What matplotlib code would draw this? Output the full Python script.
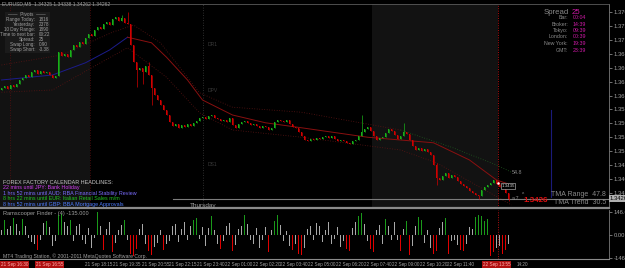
import matplotlib
matplotlib.use('Agg')
import matplotlib.pyplot as plt
import numpy as np

plt.rcParams['font.family'] = ['Liberation Sans Narrow', 'Liberation Sans', 'DejaVu Sans']

# ---------------- data ----------------
first_open = 1.3622
closes = [
    1.3626, 1.3629, 1.3624, 1.3631, 1.3627, 1.3633, 1.3640, 1.3644, 1.3649, 1.3645,
    1.3654, 1.3658, 1.3651, 1.3656, 1.3653, 1.3654, 1.3649, 1.3644, 1.3647, 1.3690,
    1.3683, 1.3687, 1.3681, 1.3694, 1.3703, 1.3699, 1.3708, 1.3705, 1.3716, 1.3723,
    1.3719, 1.3730, 1.3735, 1.3732, 1.3741, 1.3744, 1.3739, 1.3750, 1.3753, 1.3746,
    1.3752, 1.3743, 1.3741, 1.3703, 1.3672, 1.3658, 1.3662, 1.3654, 1.3665, 1.3649,
    1.3626, 1.3613, 1.3604, 1.3595, 1.3586, 1.3577, 1.3564, 1.3557, 1.3561, 1.3554,
    1.3559, 1.3555, 1.3561, 1.3557, 1.3563, 1.3566, 1.3572, 1.3573, 1.3570, 1.3575,
    1.3577, 1.3572, 1.3570, 1.3566, 1.3568, 1.3564, 1.3572, 1.3559, 1.3554, 1.3561,
    1.3564, 1.3566, 1.3563, 1.3559, 1.3561, 1.3557, 1.3554, 1.3557, 1.3555, 1.3550,
    1.3554, 1.3564, 1.3568, 1.3566, 1.3564, 1.3568, 1.3561, 1.3555, 1.3554, 1.3546,
    1.3539, 1.3532, 1.3530, 1.3534, 1.3532, 1.3536, 1.3534, 1.3537, 1.3539, 1.3536,
    1.3539, 1.3534, 1.3530, 1.3532, 1.3530, 1.3527, 1.3525, 1.3530, 1.3532, 1.3539,
    1.3546, 1.3552, 1.3555, 1.3548, 1.3539, 1.3532, 1.3536, 1.3537, 1.3545, 1.3552,
    1.3548, 1.3541, 1.3534, 1.3539, 1.3546, 1.3543, 1.3532, 1.3521, 1.3514, 1.3518,
    1.3512, 1.3516, 1.3510, 1.3505, 1.3487, 1.3464, 1.3460, 1.3467, 1.3473, 1.3464,
    1.3469, 1.3465, 1.3458, 1.3453, 1.3449, 1.3446, 1.3440, 1.3437, 1.3433, 1.3431,
    1.3442, 1.3447, 1.3451, 1.3455, 1.3460, 1.3453, 1.3447, 1.3444, 1.3437, 1.3426,
]
# only the wicks that stand out in the picture
wick_highs = {40: 1.3757, 42: 1.3762, 49: 1.3672, 120: 1.3577, 134: 1.3563, 145: 1.3490}
wick_lows = {45: 1.3628, 47: 1.3633, 50: 1.3595, 145: 1.3451, 159: 1.3426, 169: 1.3422}

# TMA centre line (blue, then red), bands
tma_blue_i = [0, 17, 28, 36, 42]
tma_blue_p = [1.3640, 1.3649, 1.3671, 1.3694, 1.3717]
tma_red_i = [42, 50, 55, 62, 67, 77, 88, 100, 122, 144, 156, 165, 170]
tma_red_p = [1.3717, 1.3707, 1.3681, 1.3640, 1.3604, 1.3577, 1.3563, 1.3554,
             1.3537, 1.3527, 1.3496, 1.3460, 1.3451]
band_up_i = [0, 20, 37, 44, 53, 66, 77, 100, 133]
band_up_p = [1.3667, 1.3685, 1.3726, 1.3739, 1.3707, 1.3617, 1.3591, 1.3582, 1.3550]
band_up2_i = [133, 150, 165, 170]
band_up2_p = [1.3550, 1.3519, 1.3487, 1.3474]
band_lo_i = [0, 17, 33, 42, 55, 66, 77, 100, 133, 145, 170]
band_lo_p = [1.3618, 1.3622, 1.3671, 1.3698, 1.3645, 1.3581, 1.3550, 1.3537,
             1.3514, 1.3491, 1.3415]

# oscillator histogram
osc = [
    30, 95, 40, 60, 110, 70, 25, 100, 55, -20, -45, -60, -95, -30, 75, 90, 50, -70, -40, 125,
    135, 80, 60, 95, -40, 55, 70, -30, -60, 45, -85, -20, 146, 60, -95, 40, 85, -110, -50, 30,
    65, 95, -30, -120, -135, -90, 40, 70, -60, -100, -130, -75, -50, 35, -95, -60, -40, 55, 70, -45,
    40, 85, -30, 60, 95, 110, -25, 50, -70, 45, 120, 30, -55, -90, -40, 60, 75, -100, -65, 40,
    55, 125, 70, -35, -60, 45, -80, -30, 50, -110, 35, 90, 130, 65, -40, 25, -70, -95, -55, -120,
    -130, -85, 40, 60, -30, 75, 55, -45, 35, 80, -60, -25, 50, -75, -40, -90, -100, 45, 85, 120,
    140, 70, -40, -90, -110, 30, 65, -60, 105, 55, -35, 80, -30, -105, 40, 90, -125, -70, 60, 115,
    95, -50, 35, -80, -120, -100, 45, 80, 110, -120, -40, -30, -65, -95, -100, -60, 50, 40, 115, 130,
    120, 90, 100, -135, -110, -80, -70, -120, -95, -60,
]
osc_level = 146.668

price_ticks = [1.3762, 1.3737, 1.3712, 1.3687, 1.3662, 1.3637, 1.3612, 1.3587,
               1.3562, 1.3537, 1.3512, 1.3487, 1.3462, 1.3437]
bid = 1.34262

time_labels = ['21 Sep 18:15', '21 Sep 19:35', '21 Sep 20:55', '21 Sep 22:15', '21 Sep 23:40',
               '22 Sep 01:00', '22 Sep 02:20', '22 Sep 03:40', '22 Sep 05:00', '22 Sep 06:20',
               '22 Sep 07:40', '22 Sep 09:00', '22 Sep 10:20', '22 Sep 11:40']
time_label_px = [85, 113, 142, 169, 197, 225, 253, 280, 308, 336, 364, 392, 420, 447]

news = [
    ('22 mins until JPY: Bank Holiday', '#d040f0'),
    ('1 hrs 52 mins until AUD: RBA Financial Stability Review', '#7a6cff'),
    ('8 hrs 22 mins until EUR: Italian Retail Sales m/m', '#22c422'),
    ('8 hrs 52 mins until GBP: BBA Mortgage Approvals', '#4f7dff'),
]
pivot_rows = [('Range Today:', '1816'), ('Yesterday:', '2378'), ('10 Day Range:', '1890'),
              ('Time to next bar:', '00:22'), ('Spread:', '25'), ('Swap Long:', '0.90'),
              ('Swap Short:', '-3.38')]
clock_rows = [('Bar:', '00:04'), ('Broker:', '14:39'), ('Tokyo:', '09:39'),
              ('London:', '00:39'), ('New York:', '19:39'), ('GMT:', '23:39')]

# ---------------- figure ----------------
W, H = 625, 268
fig = plt.figure(figsize=(W / 100, H / 100), dpi=100, facecolor='black')
GRAY = '#a0a0a0'
FS = 3.9


def fx(px):
    return px / W


def fy(py):
    return 1 - py / H


idx = np.arange(len(closes))
closes = np.array(closes)
opens = np.concatenate([[first_open], closes[:-1]])
up = closes >= opens
xmax = 609 / 3 - 0.5

ax = fig.add_axes([0, fy(208), fx(609), (208 - 4) / H])
ax.set_facecolor('black')
ax.set_xlim(-0.5, xmax)
ax.set_ylim(1.3784 - 0.00018 * 208, 1.3784 - 0.00018 * 4)

# session shading and session lines
for a, b in [(0, 90), (372, 498)]:
    ax.axvspan(a / 3 - 0.5, b / 3 - 0.5, color='#121212', lw=0, zorder=0)
for px in [10, 90]:
    ax.axvline(px / 3 - 0.5, color='#5a0f0f', lw=0.6, ls=(0, (1, 2)), zorder=1)
ax.axvline(203 / 3 - 0.5, color='#3c3c3c', lw=0.6, ls=(0, (1, 2)), zorder=1)
ax.axvline(551 / 3 - 0.5, ymin=(208 - 197) / 204, ymax=(208 - 110) / 204, color='#1a1a7a',
           lw=0.8, zorder=1)
ax.axvline(498 / 3 - 0.5, color='#b01010', lw=0.7, ls=(0, (1, 1.5)), zorder=1)

# bands
ax.plot(band_up_i, band_up_p, color='#5c1414', lw=0.6, ls=(0, (1, 2)))
ax.plot(band_up2_i, band_up2_p, color='#1f5a1f', lw=0.6, ls=(0, (1, 2)))
ax.plot(band_lo_i, band_lo_p, color='#5c1414', lw=0.6, ls=(0, (1, 2)))
ax.plot(tma_blue_i, tma_blue_p, color='#1c1c8c', lw=0.7)
ax.plot(tma_red_i, tma_red_p, color='#8a1010', lw=0.7)

# candles
bull, bear = '#18b018', '#d00000'
cols = np.where(up, bull, bear)
lo = np.minimum(opens, closes)
hi = np.maximum(opens, closes)
wl = np.array([wick_lows.get(i, lo[i]) for i in idx])
wh = np.array([wick_highs.get(i, hi[i]) for i in idx])
ax.vlines(idx, wl, wh, colors=cols, lw=0.5, zorder=3)
ax.bar(idx, np.maximum(hi - lo, 0.00012), bottom=lo, width=0.55, color=cols, lw=0, zorder=3)

# bid line and price scale
ax.axhline(bid, xmin=173 / 609, color='#7c7c7c', lw=0.8, zorder=2)
ax.yaxis.tick_right()
ax.set_yticks(price_ticks)
ax.set_yticklabels(['%.5f' % p for p in price_ticks])
ax.tick_params(axis='y', colors=GRAY, labelsize=4.2, length=2, pad=1.5, width=0.5)
ax.set_xticks([])
ax.spines['left'].set_visible(False)
ax.spines['right'].set_color('#7a7a7a')
ax.spines['top'].set_color('#5a5a5a')
ax.spines['bottom'].set_color('#8a8a8a')
ax.spines['bottom'].set_linewidth(1.6)
for s in ['right', 'top']:
    ax.spines[s].set_linewidth(0.6)

# ---------------- oscillator panel ----------------
ax2 = fig.add_axes([0, fy(259), fx(609), (259 - 210) / H])
ax2.set_facecolor('black')
ax2.set_xlim(-0.5, xmax)
ax2.set_ylim(-153, 159.4)
osc = np.array(osc)
ocol = np.where(osc >= 90, '#1a9a1a', np.where(osc <= -90, '#e00000', '#a8a8a8'))
ax2.bar(idx, osc, width=0.55, color=ocol, lw=0)
ax2.axvline(498 / 3 - 0.5, color='#b01010', lw=0.7, ls=(0, (1, 1.5)))
ax2.yaxis.tick_right()
ax2.set_yticks([osc_level, 0, -osc_level])
ax2.set_yticklabels(['146.668', '0.00', '-146.668'])
ax2.tick_params(axis='y', colors=GRAY, labelsize=4.2, length=2, pad=1.5, width=0.5)
ax2.set_xticks([])
ax2.spines['left'].set_visible(False)
ax2.spines['top'].set_visible(False)
ax2.spines['right'].set_color('#7a7a7a')
ax2.spines['right'].set_linewidth(0.6)
ax2.spines['bottom'].set_color('#8a8a8a')
ax2.spines['bottom'].set_linewidth(0.8)

# ---------------- texts ----------------
fig.text(fx(2), fy(4), 'EURUSD,M5  1.34325 1.34338 1.34262 1.34262', color=GRAY,
         fontsize=3.6, va='center', ha='left')

# pivot box
fig.patches.append(plt.Rectangle((fx(5), fy(53)), fx(45), 41 / H, transform=fig.transFigure,
                                 facecolor='#1b1b1b', edgecolor='none', zorder=0))
fig.text(fx(27), fy(14), '\u2014\u2014  Pivots  \u2014\u2014', color=GRAY, fontsize=3.4,
         ha='center', va='center')
for k, (lab, val) in enumerate(pivot_rows):
    yy = fy(19.5 + 5 * k)
    fig.text(fx(35), yy, lab, color=GRAY, fontsize=3.3, ha='right', va='center')
    fig.text(fx(39), yy, val, color=GRAY, fontsize=3.3, ha='left', va='center')

# clocks top right
fig.text(fx(569), fy(12), 'Spread', color='#8a8a8a', fontsize=5.6, ha='right', va='center')
fig.text(fx(572), fy(12), '25', color='#d01aa8', fontsize=5.6, ha='left', va='center')
for k, (lab, val) in enumerate(clock_rows):
    yy = fy(17.5 + 6.5 * k)
    fig.text(fx(568), yy, lab, color='#8a8a8a', fontsize=3.8, ha='right', va='center')
    fig.text(fx(573), yy, val, color='#d01aa8', fontsize=3.8, ha='left', va='center')

# pivot level tags
for yy, t in [(44, 'DR1'), (90, 'DPV'), (165, 'DS1')]:
    fig.text(fx(208), fy(yy), t, color='#3a3a3a', fontsize=3.6, ha='left', va='center')

# news block
fig.text(fx(3), fy(182), 'FOREX FACTORY CALENDAR HEADLINES:', color='#c8c8c8', fontsize=FS,
         ha='left', va='center')
for k, (t, c) in enumerate(news):
    fig.text(fx(3), fy(188 + 5.5 * k), t, color=c, fontsize=FS, ha='left', va='center')

fig.text(fx(203), fy(205), 'Thursday', color=GRAY, fontsize=4.6, ha='center', va='center')

# right side tma labels
fig.text(fx(606), fy(194), 'TMA Range  47.8', color='#8a8a8a', fontsize=5.0, ha='right', va='center')
fig.text(fx(606), fy(203), 'TMA Trend  30.5', color='#8a8a8a', fontsize=5.0, ha='right', va='center')
fig.text(fx(548), fy(200), '1.3426', color='#e01010', fontsize=5.8, fontweight='bold',
         ha='right', va='center')
fig.text(fx(524), fy(195), '^', color=GRAY, fontsize=3.4, ha='right', va='center')
fig.text(fx(512), fy(172), '54.8', color='#8a8a8a', fontsize=FS, ha='left', va='center')
fig.text(fx(512), fy(199), 'a.7', color='#8a8a8a', fontsize=FS, ha='left', va='center')
fig.text(fx(508), fy(186), '1.3435', color='#c8c8c8', fontsize=3.2, ha='center', va='center',
         bbox=dict(boxstyle='square,pad=0.15', fc='black', ec='#c8c8c8', lw=0.4))
ax.plot([165.5], [1.3454], 'o', ms=2.2, mfc='white', mec='#d00000', mew=0.4, zorder=5)

# current price tag on the scale
fig.text(fx(610), fy(198.5), '1.34262', color='black', fontsize=4.2, ha='left', va='center',
         bbox=dict(boxstyle='square,pad=0.1', fc='#b0b0b0', ec='none'))

# oscillator captions
fig.text(fx(3), fy(213.5), 'Ramscooper Finder - (4) -135.000', color=GRAY, fontsize=4.1,
         ha='left', va='center')
fig.text(fx(3), fy(256), 'MT4 Trading Station, \u00a9 2001-2011 MetaQuotes Software Corp.',
         color=GRAY, fontsize=3.7, ha='left', va='center')

# time axis
for t, px in zip(time_labels, time_label_px):
    fig.text(fx(px), fy(264.5), t, color=GRAY, fontsize=3.3, ha='left', va='center')
for px, t in [(1, '21 Sep 16:30'), (36, '21 Sep 16:55'), (483, '22 Sep 13:55')]:
    fig.text(fx(px), fy(264.5), t, color='#ffb0b0', fontsize=3.3, ha='left', va='center',
             bbox=dict(boxstyle='square,pad=0.15', fc='#b01010', ec='none'))
fig.text(fx(517), fy(264.5), '14:20', color=GRAY, fontsize=3.3, ha='left', va='center')

fig.savefig('out.png', dpi=100, facecolor='black')
